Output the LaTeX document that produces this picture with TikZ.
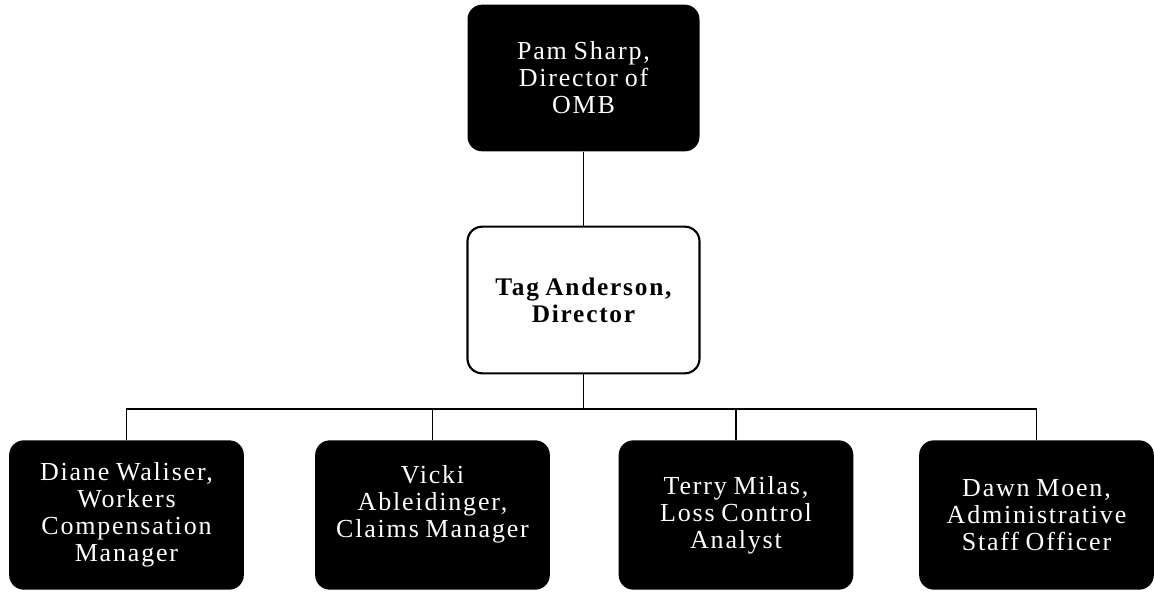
\documentclass[tikz,border=0pt]{standalone}
\usepackage{fontspec}
\setmainfont[LetterSpace=7,WordSpace=0.8]{Liberation Serif}
\begin{document}
\begin{tikzpicture}[x=0.75pt,y=-0.75pt,
  boxbase/.style={rectangle, rounded corners=11pt, align=center, inner sep=0pt,
    minimum width=176pt, minimum height=112pt,
    font=\fontsize{19.5}{20.3}\selectfont},
  darkbox/.style={boxbase, fill=black, text=white},
  lightbox/.style={boxbase, fill=white, draw=black, line width=1.6pt, text=black,
    font=\fontsize{19}{20.3}\selectfont\bfseries},
  link/.style={draw=black, line width=0.9pt}]
\useasboundingbox (0,0) rectangle (1154,600);

% top of the chart
\node[darkbox, minimum width=174pt, minimum height=110pt] (omb) at (583.5,78)
  {Pam Sharp,\\Director of\\OMB};
\node[lightbox, minimum width=174pt, minimum height=110pt] (dir) at (583.5,300)
  {Tag Anderson,\\Director};

% staff row
\node[darkbox] (diane) at (126.5,515)
  {Diane Waliser,\\Workers\\Compensation\\Manager};
\node[darkbox] (vicki) at (432.5,515)
  {Vicki\\Ableidinger,\\Claims Manager\\\mbox{}};
\node[darkbox] (terry) at (736,515)
  {Terry Milas,\\Loss Control\\Analyst};
\node[darkbox] (dawn) at (1036.5,515)
  {Dawn Moen,\\Administrative\\Staff Officer};

% reporting lines
\coordinate (bus) at (583.5,409);
\draw[link] (omb.south) -- (dir.north);
\draw[link] (dir.south) -- (bus);
\draw[link] (diane.north) -- (diane.north |- bus) -- (dawn.north |- bus) -- (dawn.north);
\draw[link] (vicki.north) -- (vicki.north |- bus);
\draw[link] (terry.north) -- (terry.north |- bus);
\end{tikzpicture}
\end{document}
